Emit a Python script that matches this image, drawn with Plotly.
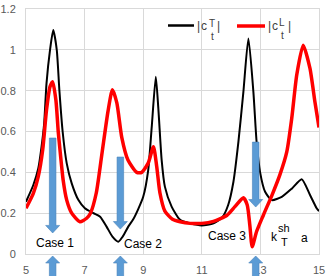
import plotly.graph_objects as go

# ---- data ----
x_T = [5.0, 5.25, 5.42, 5.53, 5.62, 5.7, 5.82, 5.93, 6.05, 6.14, 6.25, 6.39, 6.56, 6.79, 7.01, 7.3, 7.53,
       7.75, 7.95, 8.15, 8.3, 8.49, 8.66, 8.83, 9.0, 9.17, 9.29, 9.43, 9.52, 9.63, 9.74, 9.97, 10.26, 10.6,
       11.0, 11.4, 11.7, 11.9, 12.08, 12.25, 12.42, 12.59, 12.76, 12.87, 12.99, 13.16, 13.39, 13.73, 14.07,
       14.41, 14.69, 14.92, 15.0]
c_T = [0.256, 0.338, 0.42, 0.525, 0.64, 0.836, 1.0, 1.097, 1.0, 0.80, 0.60, 0.444, 0.346, 0.264, 0.224, 0.2, 0.183,
       0.134, 0.085, 0.06, 0.085, 0.134, 0.17, 0.22, 0.28, 0.41, 0.62, 0.868, 0.705, 0.46, 0.33, 0.232, 0.167, 0.15,
       0.14, 0.15, 0.18, 0.24, 0.354, 0.55, 0.795, 1.056, 0.795, 0.55, 0.40, 0.305, 0.264, 0.28, 0.32,
       0.366, 0.29, 0.224, 0.21]

x_L = [5.0, 5.25, 5.42, 5.57, 5.7, 5.82, 5.91, 6.02, 6.1, 6.16, 6.27, 6.39, 6.56, 6.84, 7.07, 7.2, 7.4, 7.6,
       7.8, 7.95, 8.1, 8.27, 8.48, 8.78, 8.95, 9.17, 9.35, 9.46, 9.57, 9.74, 10.0, 10.26, 10.6, 11.0, 11.4,
       11.86, 12.13, 12.42, 12.55, 12.64, 12.72, 12.87, 13.1, 13.4, 13.67, 13.9, 14.07, 14.24, 14.46, 14.69,
       14.86, 15.0]
c_L = [0.224, 0.297, 0.38, 0.51, 0.705, 0.82, 0.844, 0.754, 0.6, 0.51, 0.36, 0.264, 0.2, 0.158, 0.175, 0.2, 0.3, 0.5,
       0.7, 0.805, 0.74, 0.57, 0.46, 0.40, 0.40, 0.445, 0.525, 0.43, 0.30, 0.21, 0.17, 0.158, 0.15, 0.15, 0.16,
       0.19, 0.232, 0.275, 0.24, 0.14, 0.036, 0.11, 0.19, 0.29, 0.39, 0.5, 0.665, 0.877, 1.023, 0.91,
       0.746, 0.62]

case_labels = ["Case 1", "Case 2", "Case 3"]
case_x = [6.0, 9.0, 11.86]
case_y = [0.055, 0.05, 0.088]
arrow_x = [5.91, 8.22, 12.84]
arrow_top = [0.568, 0.475, 0.548]
arrow_tip = [0.103, 0.122, 0.23]

xticks = [5, 7, 9, 11, 13, 15]

FONT = "Liberation Sans"
W, H = 327, 276
L, R, T, B = 26, 8, 9, 22
PW, PH = W - L - R, H - T - B
X0, X1, Y0, Y1 = 5, 15, 0, 1.2


def px2x(px):
    return X0 + (px - L) / PW * (X1 - X0)


def py2y(py):
    return Y0 + (T + PH - py) / PH * (Y1 - Y0)


fig = go.Figure()
fig.add_trace(go.Scatter(x=x_T, y=c_T, mode="lines", line=dict(color="black", width=2, shape="spline", smoothing=0.6),
                         showlegend=False, hoverinfo="skip"))
fig.add_trace(go.Scatter(x=x_L, y=c_L, mode="lines", line=dict(color="#FF0000", width=3.5, shape="spline", smoothing=0.6),
                         showlegend=False, hoverinfo="skip"))

shapes = []
sw = 3.3 / PW * (X1 - X0)
hw = 7.0 / PW * (X1 - X0)
BLUE = "#5B9BD5"
EDGE = "#4A84BC"
for xc, top, tip in zip(arrow_x, arrow_top, arrow_tip):
    hb = tip + 0.037
    path = (f"M {xc-sw},{top} L {xc+sw},{top} L {xc+sw},{hb} L {xc+hw},{hb} L {xc},{tip} "
            f"L {xc-hw},{hb} L {xc-sw},{hb} Z")
    shapes.append(dict(type="path", path=path, xref="x", yref="y", fillcolor=BLUE,
                       line=dict(color=EDGE, width=0.6), layer="above"))
    # upward arrow below the axis (paper y)
    ptip = (T + PH - 256) / PH
    phb = (T + PH - 263) / PH
    pbot = (T + PH - 290) / PH
    path2 = (f"M {xc-sw},{pbot} L {xc+sw},{pbot} L {xc+sw},{phb} L {xc+hw},{phb} L {xc},{ptip} "
             f"L {xc-hw},{phb} L {xc-sw},{phb} Z")
    shapes.append(dict(type="path", path=path2, xref="x", yref="paper", fillcolor=BLUE,
                       line=dict(color=EDGE, width=0.6), layer="above"))

# legend lines
shapes.append(dict(type="line", xref="x", yref="y", x0=px2x(168), x1=px2x(194), y0=py2y(25.5), y1=py2y(25.5),
                   line=dict(color="black", width=2.5)))
shapes.append(dict(type="line", xref="x", yref="y", x0=px2x(237), x1=px2x(265), y0=py2y(26), y1=py2y(26),
                   line=dict(color="#FF0000", width=3.5)))

ann = []


def txt(s, px, py, size=12, color="black", yanchor="middle"):
    ann.append(dict(text=s, x=px2x(px), y=py2y(py), xref="x", yref="y", showarrow=False,
                    font=dict(family=FONT, size=size, color=color), xanchor="center", yanchor=yanchor,
                    borderpad=0))


for lab, cx, cy in zip(case_labels, case_x, case_y):
    ann.append(dict(text=lab, x=cx, y=cy, xref="x", yref="y", showarrow=False,
                    font=dict(family=FONT, size=12, color="black"), xanchor="center", yanchor="middle"))

# legend texts
LG = "#404040"
txt("|", 198, 26, 12, LG)
txt("c", 204, 26, 12, LG)
txt("T", 212, 29.5, 10, LG, "bottom")
txt("t", 212, 29.5, 10, LG, "top")
txt("|", 218, 26, 12, LG)
txt("|", 269, 26, 12, LG)
txt("c", 275, 26, 12, LG)
txt("L", 282, 28.5, 10, LG, "bottom")
txt("t", 282, 28.5, 10, LG, "top")
txt("|", 289, 26, 12, LG)

# k^sh_T a
txt("k", 274, 237, 12)
txt("sh", 284, 235, 11, "black", "bottom")
txt("T", 284, 235, 11, "black", "top")
txt("a", 304, 238, 12)

GRID = "#D9D9D9"
fig.update_layout(
    width=W, height=H, margin=dict(l=L, r=R, t=T, b=B, pad=0, autoexpand=False),
    plot_bgcolor="white", paper_bgcolor="white",
    shapes=shapes, annotations=ann, showlegend=False, hovermode=False,
    xaxis=dict(range=[X0, X1], tickvals=xticks, showgrid=True, gridcolor=GRID, gridwidth=1,
               showline=True, mirror=True, linecolor=GRID, linewidth=1, zeroline=False, automargin=False,
               ticks="outside", ticklen=6, tickcolor="rgba(0,0,0,0)",
               tickfont=dict(family=FONT, size=11, color="#595959")),
    yaxis=dict(range=[Y0, Y1], dtick=0.2, tick0=0, showgrid=True, gridcolor=GRID, gridwidth=1,
               showline=True, mirror=True, linecolor=GRID, linewidth=1, zeroline=False, automargin=False,
               ticks="outside", ticklen=7, tickcolor="rgba(0,0,0,0)",
               tickfont=dict(family=FONT, size=11, color="#595959")),
)

fig.write_html("out.html", config={"displayModeBar": False},
               post_script="document.body.style.margin='0';document.body.style.overflow='hidden';")
